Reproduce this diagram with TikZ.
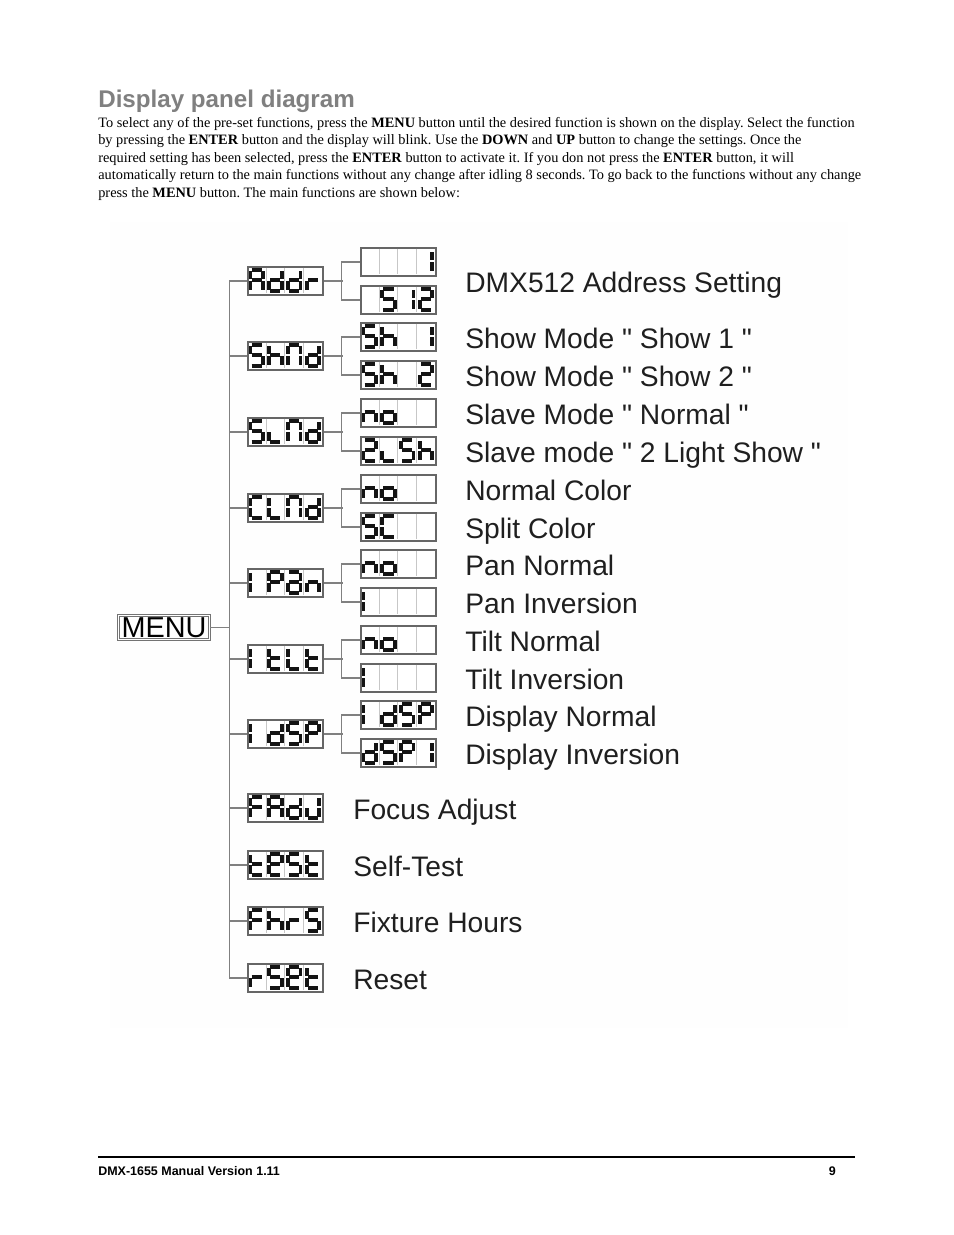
\documentclass[tikz,border=0pt]{standalone}
\usepackage{fontspec}
\setmainfont{Liberation Serif}
\newfontfamily\arialfont{Liberation Sans}
\usetikzlibrary{calc}
\frenchspacing

% segments lit for each display character
\newcommand\lcdglyph[2]{\expandafter\def\csname lcdseg#1\endcsname{#2}}
\lcdglyph{-}{x}
\lcdglyph{A}{a,b,c,e,f,g}
\lcdglyph{C}{a,d,e,f}
\lcdglyph{F}{a,e,f,g}
\lcdglyph{I}{e,f}
\lcdglyph{J}{b,c,d,e}
\lcdglyph{L}{d,e,f}
\lcdglyph{l}{d,e}
\lcdglyph{N}{a,b,c,e,f}
\lcdglyph{P}{a,b,e,f,g}
\lcdglyph{S}{a,c,d,f,g}
\lcdglyph{a}{a,b,c,d,e,g}
\lcdglyph{d}{b,c,d,e,g}
\lcdglyph{e}{a,b,d,e,f,g}
\lcdglyph{h}{c,e,f,g}
\lcdglyph{n}{c,e,g}
\lcdglyph{o}{c,d,e,g}
\lcdglyph{r}{e,g}
\lcdglyph{t}{d,e,f,g}
\lcdglyph{1}{b,c}
\lcdglyph{2}{a,b,d,e,g}
\lcdglyph{5}{a,c,d,f,g}

\newcommand\lcdparta{\draw[segment] (4.4,3.6) -- (14.4,3.6);}
\newcommand\lcdpartb{\draw[segment] (15.6,4.8) -- (15.6,12.9);}
\newcommand\lcdpartc{\draw[segment] (15.6,15.1) -- (15.6,23.4);}
\newcommand\lcdpartd{\draw[segment] (4.4,24.6) -- (14.4,24.6);}
\newcommand\lcdparte{\draw[segment] (3.2,15.1) -- (3.2,23.4);}
\newcommand\lcdpartf{\draw[segment] (3.2,4.8) -- (3.2,12.9);}
\newcommand\lcdpartg{\draw[segment] (4.4,14) -- (14.4,14);}
\newcommand\lcdpartx{}

\newcommand\lcdshow[2]{%
  \foreach \ch [count=\k from 0] in {#2} {
    \begin{scope}[shift={($(#1.north west)+(\k*18.75,0)$)}]
      \ifnum\k>0 \draw[celldiv] (0,1.2) -- (0,26.8);\fi
      \edef\seglist{\csname lcdseg\ch\endcsname}
      \foreach \s in \seglist {\csname lcdpart\s\endcsname}
    \end{scope}
  }%
}

\begin{document}
\begin{tikzpicture}[x=0.6415pt,y=-0.6415pt,
    lcd/.style={draw=black!60,line width=0.85pt,fill=white,inner sep=0pt,
      minimum width=48.1pt,minimum height=18pt},
    segment/.style={line width=2.4pt,black!92},
    celldiv/.style={line width=0.6pt,black!22},
    wire/.style={draw=black!50,line width=0.9pt},
    menubox/.style={draw=black!55,double=white,double distance=0.9pt,line width=0.7pt,
      inner sep=0pt,minimum width=58.4pt,minimum height=15.6pt,
      font=\arialfont\fontsize{18.5pt}{19pt}\selectfont},
    lbl/.style={anchor=base west,inner sep=0pt,text=black!88,
      font=\arialfont\fontsize{18.1pt}{20pt}\selectfont},
    para/.style={anchor=base west,inner sep=0pt,font=\fontsize{9.2pt}{11pt}\selectfont}]

  \useasboundingbox (0,0) rectangle (954,1235);
  \fill[white] (0,0) rectangle (954,1235);
  \fill[black!0.5] (110,222) rectangle (848,1028);

  % heading and text
  \node[anchor=base west,inner sep=0pt,text=black!50,
    font=\arialfont\bfseries\fontsize{15.5pt}{17pt}\selectfont] (title) at (98,107) {Display panel diagram};
  \node[para] (line1) at (98,127) {To select any of the pre-set functions, press the \textbf{MENU} button until the desired function is shown on the display. Select the function};
  \node[para] (line2) at (98,144.5) {by pressing the \textbf{ENTER} button and the display will blink. Use the \textbf{DOWN} and \textbf{UP} button to change the settings. Once the};
  \node[para] (line3) at (98,162) {required setting has been selected, press the \textbf{ENTER} button to activate it. If you don not press the \textbf{ENTER} button, it will};
  \node[para] (line4) at (98,179.5) {automatically return to the main functions without any change after idling 8 seconds. To go back to the functions without any change};
  \node[para] (line5) at (98,197) {press the \textbf{MENU} button. The main functions are shown below:};

  % menu and functions
  \node[menubox] (menu) at (164,627.5) {MENU};

  \node[lcd] (addr) at (285.5,281) {};
  \node[lcd] (shnd) at (285.5,356) {};
  \node[lcd] (slnd) at (285.5,432) {};
  \node[lcd] (clnd) at (285.5,508) {};
  \node[lcd] (ipan) at (285.5,583) {};
  \node[lcd] (itlt) at (285.5,659) {};
  \node[lcd] (idsp) at (285.5,734) {};
  \node[lcd] (fadj) at (285.5,808) {};
  \node[lcd] (test) at (285.5,865) {};
  \node[lcd] (fhrs) at (285.5,921) {};
  \node[lcd] (rset) at (285.5,978) {};

  \node[lcd] (addr1) at ($(addr)+(113,-19)$) {};
  \node[lcd] (addr2) at ($(addr)+(113,19)$) {};
  \node[lcd] (shnd1) at ($(shnd)+(113,-19)$) {};
  \node[lcd] (shnd2) at ($(shnd)+(113,19)$) {};
  \node[lcd] (slnd1) at ($(slnd)+(113,-19)$) {};
  \node[lcd] (slnd2) at ($(slnd)+(113,19)$) {};
  \node[lcd] (clnd1) at ($(clnd)+(113,-19)$) {};
  \node[lcd] (clnd2) at ($(clnd)+(113,19)$) {};
  \node[lcd] (ipan1) at ($(ipan)+(113,-19)$) {};
  \node[lcd] (ipan2) at ($(ipan)+(113,19)$) {};
  \node[lcd] (itlt1) at ($(itlt)+(113,-19)$) {};
  \node[lcd] (itlt2) at ($(itlt)+(113,19)$) {};
  \node[lcd] (idsp1) at ($(idsp)+(113,-19)$) {};
  \node[lcd] (idsp2) at ($(idsp)+(113,19)$) {};

  \lcdshow{addr}{A,d,d,r}
  \lcdshow{shnd}{S,h,N,d}
  \lcdshow{slnd}{S,l,N,d}
  \lcdshow{clnd}{C,L,N,d}
  \lcdshow{ipan}{I,P,a,n}
  \lcdshow{itlt}{I,t,L,t}
  \lcdshow{idsp}{I,d,S,P}
  \lcdshow{fadj}{F,A,d,J}
  \lcdshow{test}{t,e,S,t}
  \lcdshow{fhrs}{F,h,r,S}
  \lcdshow{rset}{r,S,e,t}

  \lcdshow{addr1}{-,-,-,1}
  \lcdshow{addr2}{-,5,1,2}
  \lcdshow{shnd1}{S,h,-,1}
  \lcdshow{shnd2}{S,h,-,2}
  \lcdshow{slnd1}{n,o,-,-}
  \lcdshow{slnd2}{2,l,S,h}
  \lcdshow{clnd1}{n,o,-,-}
  \lcdshow{clnd2}{S,C,-,-}
  \lcdshow{ipan1}{n,o,-,-}
  \lcdshow{ipan2}{I,-,-,-}
  \lcdshow{itlt1}{n,o,-,-}
  \lcdshow{itlt2}{I,-,-,-}
  \lcdshow{idsp1}{I,d,S,P}
  \lcdshow{idsp2}{d,S,P,1}

  % connectors
  \coordinate (trunk) at ($(addr.west)+(-18,0)$);
  \draw[wire] (menu.east) -- (menu.east -| trunk);
  \draw[wire] (addr.west) -- (trunk) |- (rset.west);
  \foreach \m in {shnd,slnd,clnd,ipan,itlt,idsp,fadj,test,fhrs}
    \draw[wire] (\m.west) -- (\m.west -| trunk);
  \foreach \m in {addr,shnd,slnd,clnd,ipan,itlt,idsp} {
    \draw[wire] (\m.east) -- ++(19,0);
    \draw[wire] (\m1.west) -- ++(-19,0) |- (\m2.west);
  }

  % descriptions
  \node[lbl] (addrtxt) at (465,292) {DMX512 Address Setting};
  \node[lbl] (shnd1txt) at (465,348) {Show Mode " Show 1 "};
  \node[lbl] (shnd2txt) at (465,386) {Show Mode " Show 2 "};
  \node[lbl] (slnd1txt) at (465,424) {Slave Mode " Normal "};
  \node[lbl] (slnd2txt) at (465,462) {Slave mode " 2 Light Show "};
  \node[lbl] (clnd1txt) at (465,500) {Normal Color};
  \node[lbl] (clnd2txt) at (465,538) {Split Color};
  \node[lbl] (ipan1txt) at (465,575) {Pan Normal};
  \node[lbl] (ipan2txt) at (465,613) {Pan Inversion};
  \node[lbl] (itlt1txt) at (465,651) {Tilt Normal};
  \node[lbl] (itlt2txt) at (465,689) {Tilt Inversion};
  \node[lbl] (idsp1txt) at (465,726) {Display Normal};
  \node[lbl] (idsp2txt) at (465,764) {Display Inversion};
  \node[lbl] (fadjtxt) at (353,819) {Focus Adjust};
  \node[lbl] (testtxt) at (353,876) {Self-Test};
  \node[lbl] (fhrstxt) at (353,932) {Fixture Hours};
  \node[lbl] (rsettxt) at (353,989) {Reset};

  % footer
  \draw[line width=1.3pt] (98,1157) -- (855,1157);
  \node[anchor=base west,inner sep=0pt,font=\arialfont\bfseries\fontsize{8pt}{9pt}\selectfont] (foot) at (98,1175) {DMX-1655 Manual Version 1.11};
  \node[anchor=base east,inner sep=0pt,font=\arialfont\bfseries\fontsize{8pt}{9pt}\selectfont] (pageno) at (836,1175) {9};
\end{tikzpicture}
\end{document}
